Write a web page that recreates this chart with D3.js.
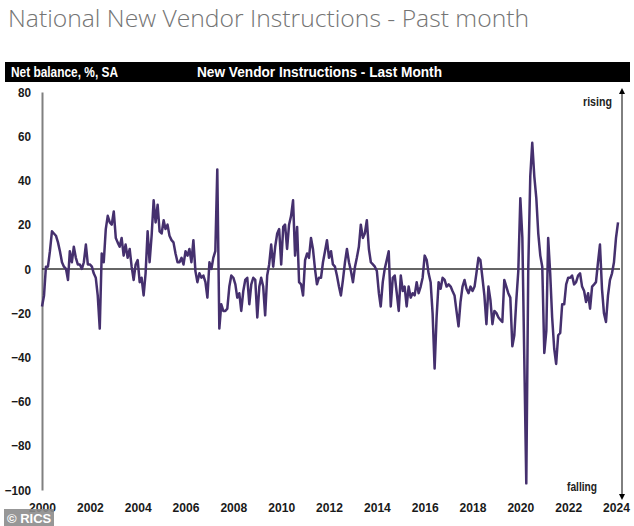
<!DOCTYPE html>
<html>
<head>
<meta charset="utf-8">
<script src="https://cdn.jsdelivr.net/npm/d3@7"></script>
<style>
  html, body { margin: 0; padding: 0; background: #fff; }
  svg { display: block; }
  .narrow { font-family: "Liberation Sans", Arial, sans-serif; font-weight: bold; }
</style>
</head>
<body>
<svg id="chart" width="634" height="526"></svg>
<script>
// ---- Data (net balance, %, SA), monthly from Jan 2000 ----
const startYear = 2000;
const y2000 = [-17, -12, 1, 1, 8, 17, 16, 15, 12, 8, 3, 1];
const y2001 = [0, -5, 8, 3, 10, 5, 2, 2, 0, 3, 11, 2];
const y2002 = [2, 1, -2, -4, -12, -27, 7, 3, 18, 24, 21, 20];
const y2003 = [26, 14, 12, 10, 14, 6, 11, 5, 9, 1, -5, 2];
const y2004 = [4, -6, -4, -12, -2, 17, 3, 15, 31, 21, 29, 17];
const y2005 = [16, 22, 18, 20, 15, 13, 12, 7, 3, 3, 5, 2];
const y2006 = [8, 6, 9, 3, 13, -1, -6, -2, -4, -3, -6, -13];
const y2007 = [3, 0, 5, 8, 45, -27, -16, -19, -19, -18, -8, -3];
const y2008 = [-4, -7, -13, -11, -19, -10, -5, -4, -16, -7, -4, -5];
const y2009 = [-22, -8, -4, -8, -21, -3, 2, 11, 1, 10, 16, 18];
const y2010 = [2, 19, 20, 9, 20, 24, 31, 6, 19, -6, -7, -12];
const y2011 = [4, 7, 5, 14, 9, 0, -7, -4, -4, 3, 8, 13];
const y2012 = [5, 8, 2, 1, -3, -8, -12, -5, 3, 9, 3, -1];
const y2013 = [-6, 1, 5, 10, 20, 14, 16, 22, 9, 3, 2, 1];
const y2014 = [-1, -11, -17, -6, 0, 4, 8, -17, -4, -3, -11, -19];
const y2015 = [-3, -10, -8, -17, -8, -13, -11, -12, -6, -11, -8, -4];
const y2016 = [6, 4, -2, -6, -20, -45, -22, -6, -9, -4, -5, -8];
const y2017 = [-7, -8, -10, -12, -19, -26, -15, -8, -5, -9, -11, -8];
const y2018 = [-10, -8, -2, 5, 4, -4, -12, -25, -8, -14, -25, -19];
const y2019 = [-20, -22, -23, -24, -5, -8, -11, -13, -35, -30, -14, -1];
const y2020 = [32, 14, -40, -97, 0, 42, 57, 42, 32, 16, 6, 1];
const y2021 = [-38, -28, 14, -2, -22, -36, -43, -30, -29, -16, -16, -7];
const y2022 = [-4, -4, -3, -7, -6, -3, -2, -8, -10, -15, -11, -18];
const y2023 = [-8, -7, -6, 3, 11, -9, -20, -24, -12, -5, -2, 3];
const y2024 = [14, 21];

const yTicks = [-100, -80, -60, -40, -20, 0, 20, 40, 60, 80];
const xTickYears = [2000, 2002, 2004, 2006, 2008, 2010, 2012, 2014, 2016, 2018, 2020, 2022, 2024];

const title = "National New Vendor Instructions - Past month";
const headerLeft = "Net balance, %, SA";
const headerCenter = "New Vendor Instructions - Last Month";

// ---- Build series ----
const values = [].concat(y2000, y2001, y2002, y2003, y2004, y2005, y2006, y2007,
  y2008, y2009, y2010, y2011, y2012, y2013, y2014, y2015, y2016, y2017, y2018,
  y2019, y2020, y2021, y2022, y2023, y2024);
const series = values.map((v, i) => ({ date: new Date(startYear, i, 1), value: v }));

const svg = d3.select("#chart");
const x = d3.scaleTime().domain([new Date(2000, 0, 1), new Date(2024, 0, 1)]).range([42, 616]);
const y = d3.scaleLinear().domain([-100, 80]).range([490, 92]);

// condense text horizontally (narrow bold look)
function condense(sel, factor) {
  sel.each(function () {
    const L = this.getComputedTextLength();
    d3.select(this).attr("textLength", L * factor).attr("lengthAdjust", "spacingAndGlyphs");
  });
}

// Title
svg.append("text").attr("x", 8).attr("y", 27)
  .style("font-family", "'Open Sans', sans-serif").style("font-weight", 300)
  .style("font-size", "24.7px").attr("fill", "#747474").text(title);

// Header bar
svg.append("rect").attr("x", 5).attr("y", 62).attr("width", 625).attr("height", 20).attr("fill", "#000");
svg.append("text").attr("class", "narrow").attr("x", 11).attr("y", 77)
  .style("font-size", "14px").attr("fill", "#fff").text(headerLeft)
  .attr("textLength", 107).attr("lengthAdjust", "spacingAndGlyphs");
svg.append("text").attr("class", "narrow").attr("x", 197).attr("y", 77)
  .style("font-size", "14.5px").attr("fill", "#fff").text(headerCenter)
  .attr("textLength", 245).attr("lengthAdjust", "spacingAndGlyphs");

// Y axis
const yAxis = svg.append("g").attr("transform", "translate(42,0)")
  .call(d3.axisLeft(y).tickValues(yTicks).tickSize(0).tickPadding(11).tickFormat(d3.format("d")));
yAxis.select(".domain").attr("stroke", "#808080").attr("stroke-width", 2);
yAxis.selectAll("text").attr("class", "narrow").style("font-size", "13px").attr("fill", "#1a1a1a")
  .call(condense, 0.9);

// X axis
const xAxis = svg.append("g").attr("transform", "translate(0,497)")
  .call(d3.axisBottom(x).tickValues(xTickYears.map(yr => new Date(yr, 0, 1)))
    .tickSize(0).tickPadding(6).tickFormat(d3.timeFormat("%Y")));
xAxis.select(".domain").remove();
xAxis.selectAll("text").attr("class", "narrow").style("font-size", "13px").attr("fill", "#1a1a1a")
  .call(condense, 0.93);

// Zero line
svg.append("line").attr("x1", 42).attr("x2", 620).attr("y1", y(0)).attr("y2", y(0))
  .attr("stroke", "#333").attr("stroke-width", 1.5);

// Right arrow axis
const defs = svg.append("defs");
defs.append("marker").attr("id", "arr").attr("viewBox", "0 0 10 10").attr("refX", 5).attr("refY", 5)
  .attr("markerWidth", 6).attr("markerHeight", 6).attr("orient", "auto-start-reverse")
  .append("path").attr("d", "M0,0 L10,5 L0,10 z").attr("fill", "#000");
svg.append("line").attr("x1", 622).attr("x2", 622).attr("y1", 91).attr("y2", 497)
  .attr("stroke", "#000").attr("stroke-width", 1)
  .attr("marker-start", "url(#arr)").attr("marker-end", "url(#arr)");

svg.append("text").attr("class", "narrow").attr("x", 612).attr("y", 106).attr("text-anchor", "end")
  .style("font-size", "12.5px").attr("fill", "#222").text("rising")
  .attr("textLength", 29).attr("lengthAdjust", "spacingAndGlyphs");
svg.append("text").attr("class", "narrow").attr("x", 567).attr("y", 491)
  .style("font-size", "12.5px").attr("fill", "#222").text("falling")
  .attr("textLength", 30).attr("lengthAdjust", "spacingAndGlyphs");

// Line
const line = d3.line().x(d => x(d.date)).y(d => y(d.value));
svg.append("path").datum(series).attr("d", line)
  .attr("fill", "none").attr("stroke", "#45306e").attr("stroke-width", 2.5)
  .attr("stroke-linejoin", "round");

// Watermark
svg.append("rect").attr("x", 4).attr("y", 509).attr("width", 50).attr("height", 17)
  .attr("fill", "#8c8c8c").attr("opacity", 0.9);
svg.append("text").attr("x", 7).attr("y", 523)
  .style("font-family", "'Liberation Sans', Arial, sans-serif").style("font-weight", "bold")
  .style("font-size", "13px").attr("fill", "#fff").text("© RICS");
</script>
</body>
</html>
